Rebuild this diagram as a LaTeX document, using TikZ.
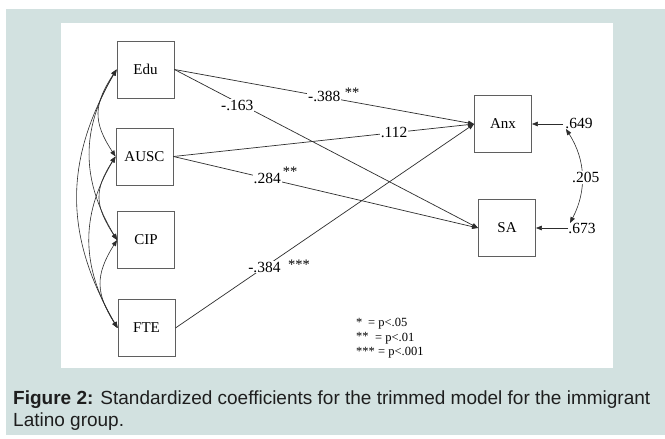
\documentclass[tikz,border=0pt]{standalone}
\usepackage{fontspec}
\setmainfont{Liberation Serif}
\newfontfamily\capfont{Liberation Sans}
\usetikzlibrary{arrows.meta}
\definecolor{panel}{RGB}{210,225,224}
\definecolor{edge}{RGB}{45,45,45}
\definecolor{frame}{RGB}{95,95,95}
\definecolor{captext}{RGB}{30,30,30}

\begin{document}
\begin{tikzpicture}[x=1pt,y=-1pt,
  var/.style={draw=frame, line width=0.9pt, minimum width=57pt, minimum height=57pt,
    inner sep=0pt, font=\fontsize{15}{16}\selectfont},
  tip/.tip={Triangle[length=6pt,width=4.6pt]},
  path/.style={draw=edge, line width=0.7pt, -tip},
  cov/.style={draw=edge, line width=0.6pt, tip-tip},
  coef/.style={fill=white, inner sep=1pt, font=\fontsize{15.5}{16}\selectfont},
  plain/.style={inner sep=0pt, font=\fontsize{15.5}{16}\selectfont},
  sig/.style={inner sep=0pt, font=\fontsize{14.5}{15}\selectfont},
  note/.style={inner sep=0pt, anchor=base west, font=\fontsize{12.5}{13}\selectfont},
  caption/.style={inner sep=0pt, anchor=base west, text=captext,
    font=\capfont\fontsize{19}{22}\selectfont}
]
\useasboundingbox (0,0) rectangle (665,439);
% background panel and the white figure area
\fill[white] (0,0) rectangle (665,439);
\fill[panel] (6,9) rectangle (665,435);
\fill[white] (61,23) rectangle (613,368);

% observed variables
\node[var] (edu)  at (145.5,69.5) {Edu};
\node[var] (ausc) at (144.5,156.5) {AUSC};
\node[var] (cip)  at (146,240) {CIP};
\node[var] (fte)  at (146.5,328) {FTE};
\node[var] (anx)  at (503,124) {Anx};
\node[var] (sa)   at (507,228) {SA};

% correlations among the predictors
\draw[cov] (edu.west)  .. controls +(-23,35) and +(-23,-35) .. (ausc.west);
\draw[cov] (edu.west)  .. controls +(-36,60) and +(-36,-60) .. (cip.west);
\draw[cov] (edu.west)  .. controls +(-53,92) and +(-53,-92) .. (fte.west);
\draw[cov] (ausc.west) .. controls +(-22,34) and +(-22,-34) .. (cip.west);
\draw[cov] (ausc.west) .. controls +(-36,60) and +(-36,-60) .. (fte.west);
\draw[cov] (cip.west)  .. controls +(-22,35) and +(-22,-35) .. (fte.west);

% structural paths
\draw[path] (edu.east)  -- node[coef,pos=0.5]   {-.388} (anx.west);
\draw[path] (edu.east)  -- node[coef,pos=0.207,yshift=-3pt] {-.163} (sa.west);
\draw[path] (ausc.east) -- node[coef,pos=0.734] {.112}  (anx.west);
\draw[path] (ausc.east) -- node[coef,pos=0.308] {.284}  (sa.west);
\draw[path] (fte.east)  -- node[coef,pos=0.298] {-.384} (anx.west);

% significance marks
\node[sig] (s388) at (352,93) {**};
\node[sig] (s284) at (290,172) {**};
\node[sig] (s384) at (299,265) {***};

% residual terms
\coordinate (e1) at (563,124);
\coordinate (e2) at (568,228);
\coordinate (c1) at (566,129);
\coordinate (c2) at (570,223);
\draw[path] (e1) -- (anx.east);
\draw[path] (e2) -- (sa.east);
\draw[cov] (c1) to[bend left=30] node[coef,pos=0.5,xshift=4pt,yshift=-2pt] {.205} (c2);
\node[plain] (r1) at (579,123) {.649};
\node[plain] (r2) at (582,228) {.673};

% legend
\node[note] (k1) at (356,326) {*};
\node[note] (v1) at (368,326.5) {= p<.05};
\node[note] (k2) at (356,340.5) {**};
\node[note] (v2) at (375,341) {= p<.01};
\node[note] (k3) at (356,355) {***};
\node[note] (v3) at (378,355.5) {= p<.001};

% caption
\node[caption] (cap1) at (13,404) {\textbf{Figure 2:} Standardized coefficients for the trimmed model for the immigrant};
\node[caption] (cap2) at (13,426.5) {Latino group.};
\end{tikzpicture}
\end{document}
